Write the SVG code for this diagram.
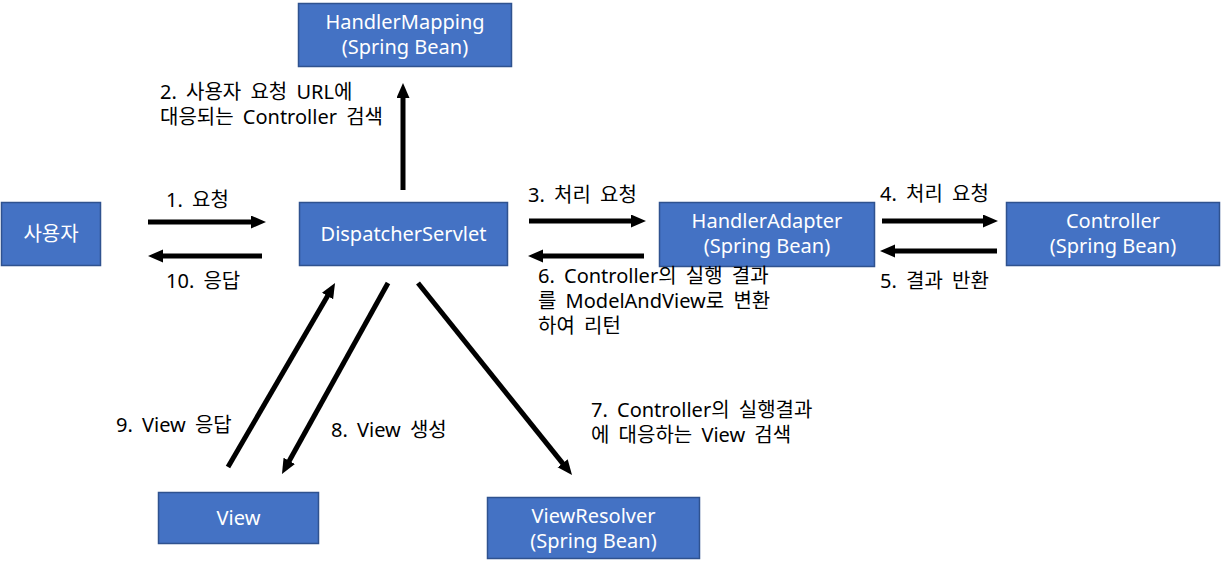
<svg xmlns="http://www.w3.org/2000/svg" width="1222" height="567" viewBox="0 0 1222 567">
<style>
.box{fill:#4472C4;stroke:#2F528F;stroke-width:1.5}
.bt{fill:#fff;font-family:"Noto Sans","Noto Sans CJK KR",sans-serif;font-size:20px;text-anchor:middle}
.lb{fill:#000;font-family:"Noto Sans","Noto Sans CJK KR",sans-serif;font-size:20px;word-spacing:4px}
.ar{stroke:#000;stroke-width:5;fill:none;marker-end:url(#ah)}
</style>
<defs>
<marker id="ah" markerUnits="userSpaceOnUse" markerWidth="16" markerHeight="14" refX="3" refY="6.5" orient="auto" viewBox="0 0 16 14">
<path d="M0,0 L15,6.5 L0,13 z" fill="#000"/>
</marker>
</defs>
<rect width="1222" height="567" fill="#fff"/>
<g id="user"><rect class="box" x="1.5" y="202.5" width="99" height="63"/><text class="bt" x="51" y="241">사용자</text></g>
<g id="dispatcher"><rect class="box" x="299.5" y="202.5" width="208" height="63"/><text class="bt" x="403.5" y="241">DispatcherServlet</text></g>
<g id="handlerMapping"><rect class="box" x="298.5" y="3.5" width="213" height="63"/><text class="bt" x="405" y="29">HandlerMapping</text><text class="bt" x="405" y="54">(Spring Bean)</text></g>
<g id="handlerAdapter"><rect class="box" x="659.5" y="202.5" width="215" height="64"/><text class="bt" x="767" y="228">HandlerAdapter</text><text class="bt" x="767" y="253">(Spring Bean)</text></g>
<g id="controller"><rect class="box" x="1006.5" y="202.5" width="213" height="63"/><text class="bt" x="1113" y="228">Controller</text><text class="bt" x="1113" y="253">(Spring Bean)</text></g>
<g id="view"><rect class="box" x="158.5" y="492.5" width="160" height="51"/><text class="bt" x="238.5" y="525">View</text></g>
<g id="viewResolver"><rect class="box" x="487.5" y="497.5" width="212" height="61"/><text class="bt" x="593.5" y="523">ViewResolver</text><text class="bt" x="593.5" y="548">(Spring Bean)</text></g>
<g id="connectors">
<line class="ar" x1="148" y1="222" x2="254" y2="222"/>
<line class="ar" x1="262" y1="256" x2="160" y2="256"/>
<line class="ar" x1="403" y1="190" x2="403" y2="95"/>
<line class="ar" x1="529" y1="221" x2="634" y2="221"/>
<line class="ar" x1="644" y1="256" x2="540" y2="256"/>
<line class="ar" x1="882" y1="221" x2="986" y2="221"/>
<line class="ar" x1="997" y1="251" x2="892" y2="251"/>
<line class="ar" x1="228" y1="467" x2="329" y2="293.4"/>
<line class="ar" x1="388" y1="283" x2="287.8" y2="463.5"/>
<line class="ar" x1="418" y1="283" x2="564.5" y2="465.6"/>
</g>
<g id="labels">
<text class="lb" x="166" y="207">1. 요청</text>
<text class="lb" x="166" y="288">10. 응답</text>
<text class="lb" x="160" y="99">2. 사용자 요청 URL에</text>
<text class="lb" x="160" y="124">대응되는 Controller 검색</text>
<text class="lb" x="528" y="202">3. 처리 요청</text>
<text class="lb" x="538" y="283">6. Controller의 실행 결과</text>
<text class="lb" x="538" y="308">를 ModelAndView로 변환</text>
<text class="lb" x="538" y="333">하여 리턴</text>
<text class="lb" x="880" y="201">4. 처리 요청</text>
<text class="lb" x="880" y="288">5. 결과 반환</text>
<text class="lb" x="116" y="432">9. View 응답</text>
<text class="lb" x="331" y="437">8. View 생성</text>
<text class="lb" x="591" y="417">7. Controller의 실행결과</text>
<text class="lb" x="591" y="442">에 대응하는 View 검색</text>
</g>
</svg>
